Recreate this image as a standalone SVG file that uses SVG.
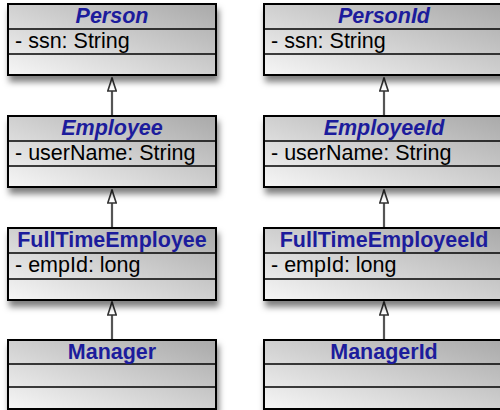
<svg xmlns="http://www.w3.org/2000/svg" width="500" height="410" viewBox="0 0 500 410">
<style>
.box{fill:url(#g);stroke:#000;stroke-width:2}
.sep{stroke:#000;stroke-width:1.6}
.t{font-family:"Liberation Sans",Arial,sans-serif;font-size:21.5px;font-weight:bold;fill:#1c1c9c;text-anchor:middle}
.i{font-style:italic}
.a{font-family:"Liberation Sans",Arial,sans-serif;font-size:21.5px;fill:#000}
.c{stroke:#555;stroke-width:2.2;fill:none;marker-end:url(#tri)}
</style>
<defs>
<linearGradient id="g" x1="0" y1="1" x2="1" y2="0">
<stop offset="0" stop-color="#f6f6f6"/>
<stop offset="1" stop-color="#a9a9a9"/>
</linearGradient>
<filter id="sh" x="-10%" y="-10%" width="125%" height="135%">
<feDropShadow dx="2" dy="6" stdDeviation="3" flood-color="#000" flood-opacity="0.5"/>
</filter>
<marker id="tri" viewBox="0 0 15 10" refX="14" refY="5" markerWidth="15" markerHeight="10" markerUnits="userSpaceOnUse" orient="auto">
<path d="M1,0.8 L14,5 L1,9.2 Z" fill="#fff" stroke="#333" stroke-width="1.6"/>
</marker>
</defs>
<rect width="500" height="410" fill="#fff"/>
<g id="connectors">
<path class="c" d="M112,116 V78"/>
<path class="c" d="M112,228 V190"/>
<path class="c" d="M112,340 V302"/>
<path class="c" d="M384,116 V78"/>
<path class="c" d="M384,228 V190"/>
<path class="c" d="M384,340 V302"/>
</g>
<g id="Person">
<rect class="box" x="8" y="4" width="208" height="71" filter="url(#sh)"/>
<line class="sep" x1="8" y1="29" x2="216" y2="29"/>
<line class="sep" x1="8" y1="54" x2="216" y2="54"/>
<text class="t i" x="112" y="23">Person</text>
<text class="a" x="15" y="48">- ssn: String</text>
</g>
<g id="Employee">
<rect class="box" x="8" y="116" width="208" height="71" filter="url(#sh)"/>
<line class="sep" x1="8" y1="141" x2="216" y2="141"/>
<line class="sep" x1="8" y1="166" x2="216" y2="166"/>
<text class="t i" x="112" y="135">Employee</text>
<text class="a" x="15" y="160">- userName: String</text>
</g>
<g id="FullTimeEmployee">
<rect class="box" x="8" y="228" width="208" height="72" filter="url(#sh)"/>
<line class="sep" x1="8" y1="253" x2="216" y2="253"/>
<line class="sep" x1="8" y1="279" x2="216" y2="279"/>
<text class="t" x="112" y="247">FullTimeEmployee</text>
<text class="a" x="15" y="272">- empId: long</text>
</g>
<g id="Manager">
<rect class="box" x="8" y="340" width="208" height="69" filter="url(#sh)"/>
<line class="sep" x1="8" y1="364" x2="216" y2="364"/>
<line class="sep" x1="8" y1="387" x2="216" y2="387"/>
<text class="t" x="112" y="359">Manager</text>
</g>
<g id="PersonId">
<rect class="box" x="264" y="4" width="241" height="71" filter="url(#sh)"/>
<line class="sep" x1="264" y1="29" x2="505" y2="29"/>
<line class="sep" x1="264" y1="54" x2="505" y2="54"/>
<text class="t i" x="384" y="23">PersonId</text>
<text class="a" x="271" y="48">- ssn: String</text>
</g>
<g id="EmployeeId">
<rect class="box" x="264" y="116" width="241" height="71" filter="url(#sh)"/>
<line class="sep" x1="264" y1="141" x2="505" y2="141"/>
<line class="sep" x1="264" y1="166" x2="505" y2="166"/>
<text class="t i" x="384" y="135">EmployeeId</text>
<text class="a" x="271" y="160">- userName: String</text>
</g>
<g id="FullTimeEmployeeId">
<rect class="box" x="264" y="228" width="241" height="72" filter="url(#sh)"/>
<line class="sep" x1="264" y1="253" x2="505" y2="253"/>
<line class="sep" x1="264" y1="279" x2="505" y2="279"/>
<text class="t" x="384" y="247">FullTimeEmployeeId</text>
<text class="a" x="271" y="272">- empId: long</text>
</g>
<g id="ManagerId">
<rect class="box" x="264" y="340" width="241" height="69" filter="url(#sh)"/>
<line class="sep" x1="264" y1="364" x2="505" y2="364"/>
<line class="sep" x1="264" y1="387" x2="505" y2="387"/>
<text class="t" x="384" y="359">ManagerId</text>
</g>
</svg>
